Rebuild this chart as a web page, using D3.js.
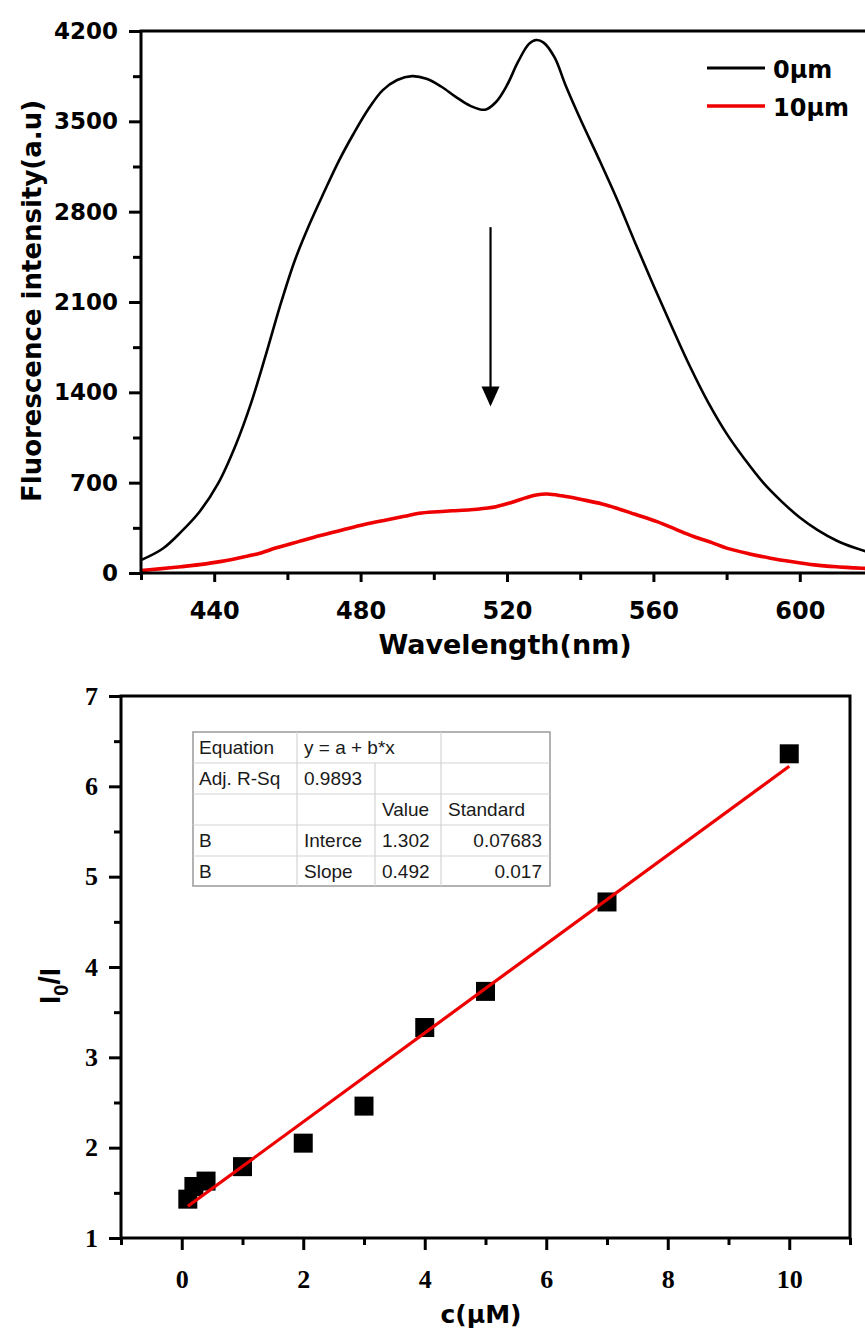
<!DOCTYPE html>
<html>
<head>
<meta charset="utf-8">
<script src="https://cdn.jsdelivr.net/npm/d3@7"></script>
<style>
body{margin:0;background:#fff;}
</style>
</head>
<body>
<div id="chart"></div>
<script>
// top panel - emission spectra
const wavelength0 = [420,426,431,436,441,446,450,454,458,462,466,470,474,478,482,486,490,494,498,502,506,510,514,517,520,523,526,528,530,533,536,540,545,550,555,560,565,570,575,580,585,590,595,600,605,610,615,620];
const intensity0 = [100,190,320,475,690,1000,1310,1680,2070,2420,2700,2950,3190,3400,3590,3740,3820,3850,3830,3770,3690,3620,3590,3650,3780,3960,4100,4130,4110,3995,3780,3520,3215,2900,2560,2230,1910,1600,1320,1080,880,700,555,430,330,252,195,150];
const wavelength10 = [420,425,431,436,442,447,452,457,463,469,475,481,487,492,496,501,505,510,514,517,521,525,528,531,535,541,546,550,555,561,566,571,576,580,586,592,598,604,610,615,620];
const intensity10 = [18,32,49,65,90,118,150,195,243,290,333,375,411,440,463,475,482,490,502,514,545,582,605,612,598,566,535,502,455,398,340,283,235,193,150,115,87,63,48,40,33];
const seriesNames = ['0μm', '10μm'];
const seriesColors = ['#000000', '#ee0000'];
const arrowWavelength = 515.5, arrowFrom = 2680, arrowTo = 1290;
const topXTicks = [440, 480, 520, 560, 600];
const topXMinor = [420, 460, 500, 540, 580, 620];
const topYTicks = [0, 700, 1400, 2100, 2800, 3500, 4200];
const topYMinor = [350, 1050, 1750, 2450, 3150, 3850];

// bottom panel - I0/I against concentration
const conc = [0.1, 0.2, 0.4, 1, 2, 3, 4, 5, 7, 10];
const ratio = [1.43, 1.57, 1.63, 1.79, 2.05, 2.46, 3.33, 3.73, 4.72, 6.36];
const fitIntercept = 1.302, fitSlope = 0.492;
const botXTicks = [0, 2, 4, 6, 8, 10];
const botXMinor = [-1, 1, 3, 5, 7, 9, 11];
const botYTicks = [1, 2, 3, 4, 5, 6, 7];
const botYMinor = [1.5, 2.5, 3.5, 4.5, 5.5, 6.5];
const tableRows = [
	['Equation', 'y = a + b*x', '', ''],
	['Adj. R-Sq', '0.9893', '', ''],
	['', '', 'Value', 'Standard'],
	['B', 'Interce', '1.302', '0.07683'],
	['B', 'Slope', '0.492', '0.017']
];

const svg = d3.select('#chart').append('svg')
	.attr('width', 865).attr('height', 1331)
	.style('background', '#fff');

const sansBold = "'DejaVu Sans', sans-serif";
const fmt = d3.format('d');

function styleAxis(g, font, size, lw){
	g.select('.domain').remove();
	g.selectAll('.tick line').attr('stroke', '#000').attr('stroke-width', lw);
	g.selectAll('.tick text')
		.attr('fill', '#000')
		.style('font-family', font)
		.style('font-weight', 'bold')
		.style('font-size', size + 'px');
}

// ================= top panel =================
const tp = {left:141, right:873, top:31, bottom:573};
const xT = d3.scaleLinear().domain([420, 620]).range([tp.left, tp.right]);
const yT = d3.scaleLinear().domain([0, 4200]).range([tp.bottom, tp.top]);

svg.append('clipPath').attr('id', 'clipTop')
	.append('rect').attr('x', tp.left).attr('y', tp.top - 5)
	.attr('width', tp.right - tp.left).attr('height', tp.bottom - tp.top + 5);

// ticks
svg.append('g').attr('transform', `translate(${tp.left},0)`)
	.call(d3.axisLeft(yT).tickValues(topYMinor).tickSize(8).tickSizeOuter(0).tickFormat(''))
	.call(g => styleAxis(g, sansBold, 22, 3));
svg.append('g').attr('transform', `translate(${tp.left},0)`)
	.call(d3.axisLeft(yT).tickValues(topYTicks).tickSize(12).tickSizeOuter(0).tickPadding(11).tickFormat(fmt))
	.call(g => styleAxis(g, sansBold, 23, 3));
svg.append('g').attr('transform', `translate(0,${tp.bottom})`)
	.call(d3.axisBottom(xT).tickValues(topXMinor).tickSize(7).tickSizeOuter(0).tickFormat(''))
	.call(g => styleAxis(g, sansBold, 22, 3));
svg.append('g').attr('transform', `translate(0,${tp.bottom})`)
	.call(d3.axisBottom(xT).tickValues(topXTicks).tickSize(9).tickSizeOuter(0).tickPadding(20).tickFormat(fmt))
	.call(g => styleAxis(g, sansBold, 24, 3));

// curves
const lineT = d3.line().curve(d3.curveCatmullRom.alpha(0.5)).x(d => xT(d[0])).y(d => yT(d[1]));
const spectra = [d3.zip(wavelength0, intensity0), d3.zip(wavelength10, intensity10)];
svg.append('g').attr('clip-path', 'url(#clipTop)')
	.selectAll('path').data(spectra).join('path')
	.attr('d', lineT)
	.attr('fill', 'none')
	.attr('stroke', (d, i) => seriesColors[i])
	.attr('stroke-width', (d, i) => i === 0 ? 2.6 : 3.6)
	.attr('stroke-linejoin', 'round');

// frame
svg.append('rect')
	.attr('x', tp.left).attr('y', tp.top)
	.attr('width', tp.right - tp.left).attr('height', tp.bottom - tp.top)
	.attr('fill', 'none').attr('stroke', '#000').attr('stroke-width', 3);

// arrow
const ax = xT(arrowWavelength), tipY = yT(arrowTo);
svg.append('line')
	.attr('x1', ax).attr('x2', ax)
	.attr('y1', yT(arrowFrom)).attr('y2', tipY - 16)
	.attr('stroke', '#000').attr('stroke-width', 2.2);
svg.append('path')
	.attr('d', `M${ax - 9},${tipY - 20} L${ax + 9},${tipY - 20} L${ax},${tipY} Z`)
	.attr('fill', '#000');

// legend
const leg = svg.append('g');
seriesNames.forEach(function(name, i){
	const ly = 68 + i * 38;
	leg.append('line')
		.attr('x1', 707).attr('x2', 765).attr('y1', ly).attr('y2', ly)
		.attr('stroke', seriesColors[i]).attr('stroke-width', i === 0 ? 3 : 3.6);
	leg.append('text')
		.attr('x', 773).attr('y', ly + 10)
		.style('font-family', sansBold).style('font-weight', 'bold').style('font-size', '24px')
		.text(name);
});

// axis titles
svg.append('text')
	.attr('x', 505).attr('y', 654)
	.attr('text-anchor', 'middle')
	.style('font-family', sansBold).style('font-weight', 'bold').style('font-size', '27px')
	.text('Wavelength(nm)');
svg.append('text')
	.attr('transform', 'translate(41,301) rotate(-90)')
	.attr('text-anchor', 'middle')
	.style('font-family', sansBold).style('font-weight', 'bold').style('font-size', '26px')
	.text('Fluorescence intensity(a.u)');

// ================= bottom panel =================
const bp = {left:121, right:850, top:696, bottom:1238};
const xB = d3.scaleLinear().domain([-1, 11]).range([bp.left, bp.right]);
const yB = d3.scaleLinear().domain([1, 7]).range([bp.bottom, bp.top]);
const serifBold = "'Liberation Serif', 'Times New Roman', serif";

svg.append('g').attr('transform', `translate(${bp.left},0)`)
	.call(d3.axisLeft(yB).tickValues(botYMinor).tickSize(7).tickSizeOuter(0).tickFormat(''))
	.call(g => styleAxis(g, serifBold, 24, 3));
svg.append('g').attr('transform', `translate(${bp.left},0)`)
	.call(d3.axisLeft(yB).tickValues(botYTicks).tickSize(12).tickSizeOuter(0).tickPadding(11).tickFormat(fmt))
	.call(g => styleAxis(g, serifBold, 26, 3));
svg.append('g').attr('transform', `translate(0,${bp.bottom})`)
	.call(d3.axisBottom(xB).tickValues(botXMinor).tickSize(7).tickSizeOuter(0).tickFormat(''))
	.call(g => styleAxis(g, serifBold, 24, 3));
svg.append('g').attr('transform', `translate(0,${bp.bottom})`)
	.call(d3.axisBottom(xB).tickValues(botXTicks).tickSize(12).tickSizeOuter(0).tickPadding(20).tickFormat(fmt))
	.call(g => styleAxis(g, serifBold, 26, 3));

svg.append('rect')
	.attr('x', bp.left).attr('y', bp.top)
	.attr('width', bp.right - bp.left).attr('height', bp.bottom - bp.top)
	.attr('fill', 'none').attr('stroke', '#000').attr('stroke-width', 3);

// data squares
const pts = d3.zip(conc, ratio);
const sq = 19;
svg.append('g').selectAll('rect').data(pts).join('rect')
	.attr('x', d => xB(d[0]) - sq / 2)
	.attr('y', d => yB(d[1]) - sq / 2)
	.attr('width', sq).attr('height', sq)
	.attr('fill', '#000');

// linear fit
const xFit = d3.extent(conc);
svg.append('line')
	.attr('x1', xB(xFit[0])).attr('y1', yB(fitIntercept + fitSlope * xFit[0]))
	.attr('x2', xB(xFit[1])).attr('y2', yB(fitIntercept + fitSlope * xFit[1]))
	.attr('stroke', '#ee0000').attr('stroke-width', 3.2);

// fit table
const colX = [193, 297, 375, 441, 550];
const rowY = [732, 763, 794, 825, 856, 886];
const tbl = svg.append('g').style('font-family', "'Liberation Sans', Arial, sans-serif").style('font-size', '19px');
tbl.append('rect')
	.attr('x', colX[0]).attr('y', rowY[0])
	.attr('width', colX[4] - colX[0]).attr('height', rowY[5] - rowY[0])
	.attr('fill', '#fff').attr('stroke', '#9a9a9a').attr('stroke-width', 1.5);
rowY.slice(1, 5).forEach(y => {
	tbl.append('line').attr('x1', colX[0]).attr('x2', colX[4]).attr('y1', y).attr('y2', y)
		.attr('stroke', '#d4d4d4').attr('stroke-width', 1.2);
});
colX.slice(1, 4).forEach((x, i) => {
	tbl.append('line').attr('x1', x).attr('x2', x)
		.attr('y1', i === 1 ? rowY[1] : rowY[0]).attr('y2', rowY[5])
		.attr('stroke', '#d4d4d4').attr('stroke-width', 1.2);
});
tableRows.forEach(function(row, ri){
	row.forEach(function(cell, ci){
		if(!cell) return;
		const rightAlign = ci === 3 && ri > 2;
		tbl.append('text')
			.attr('x', rightAlign ? colX[4] - 8 : colX[ci] + (ci === 0 ? 6 : 7))
			.attr('y', rowY[ri] + 22)
			.attr('text-anchor', rightAlign ? 'end' : 'start')
			.attr('fill', '#1a1a1a')
			.text(cell);
	});
});

// axis titles
svg.append('text')
	.attr('x', 481).attr('y', 1323)
	.attr('text-anchor', 'middle')
	.style('font-family', sansBold).style('font-weight', 'bold').style('font-size', '25px')
	.text('c(μM)');
const yTitle = svg.append('text')
	.attr('transform', 'translate(60,986) rotate(-90)')
	.attr('text-anchor', 'middle')
	.style('font-family', "'Liberation Sans', Arial, sans-serif").style('font-weight', 'bold').style('font-size', '30px');
yTitle.append('tspan').text('I');
yTitle.append('tspan').attr('dy', 8).style('font-size', '20px').text('0');
yTitle.append('tspan').attr('dy', -8).text('/I');
</script>
</body>
</html>
